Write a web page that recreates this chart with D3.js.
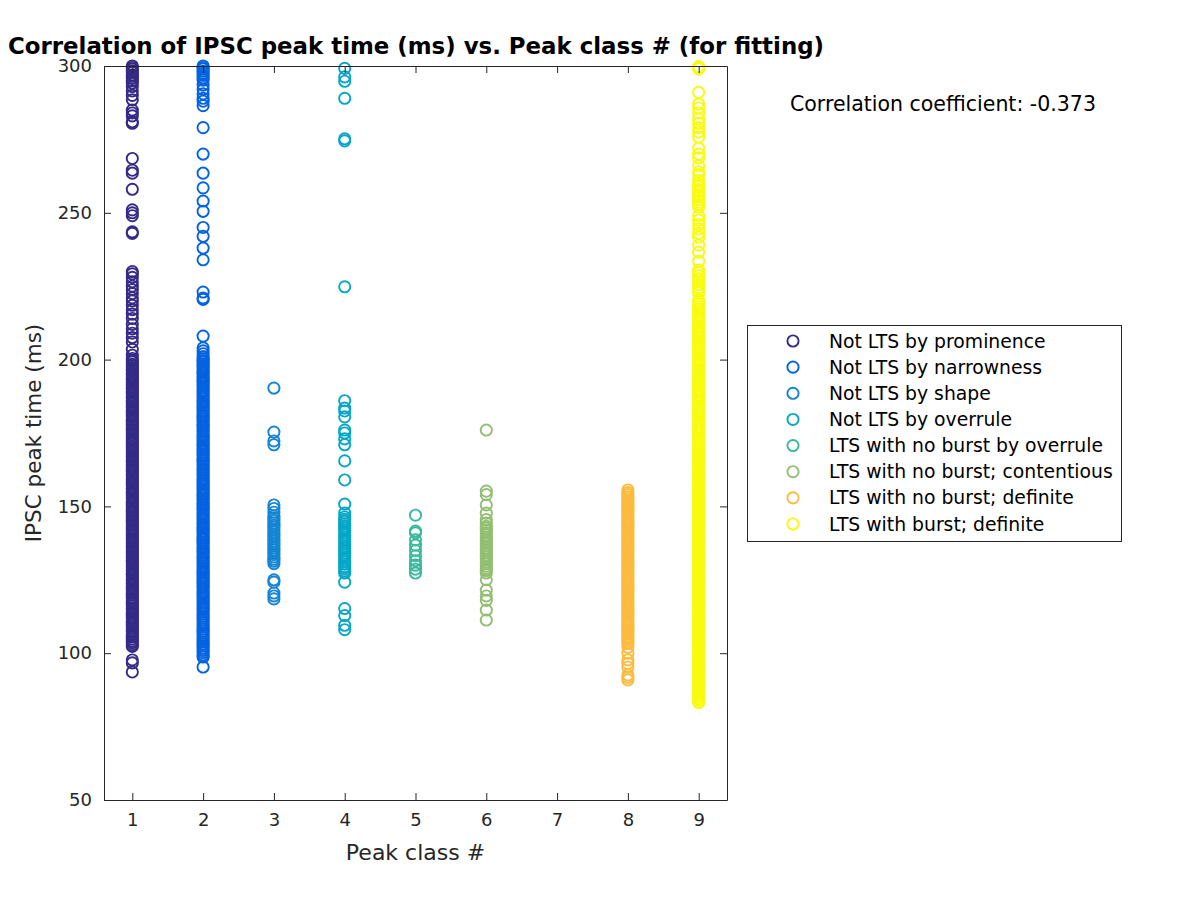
<!DOCTYPE html>
<html>
<head>
<meta charset="utf-8">
<script src="https://cdn.jsdelivr.net/npm/d3@7"></script>
<style>
  html, body { margin: 0; padding: 0; background: #fff; }
  svg text { font-family: "DejaVu Sans", sans-serif; }
</style>
</head>
<body>
<svg id="chart" width="1200" height="900"></svg>
<script>
// ---------------- DATA ----------------
const classNumbers = [1, 2, 3, 4, 5, 6, 8, 9];
const classNames = [
  "Not LTS by prominence",
  "Not LTS by narrowness",
  "Not LTS by shape",
  "Not LTS by overrule",
  "LTS with no burst by overrule",
  "LTS with no burst; contentious",
  "LTS with no burst; definite",
  "LTS with burst; definite"
];
const classColors = ["#352a87", "#0363e1", "#1485d4", "#06a7c6", "#38b99e", "#92bf73", "#fcbb3e", "#f9fb0e"];
const xTickValues = [1, 2, 3, 4, 5, 6, 7, 8, 9];
const yTickValues = [50, 100, 150, 200, 250, 300];
const correlationText = "Correlation coefficient: -0.373";

// IPSC peak times (ms) per peak class
const peakTimes1 = [
  93.6, 96.7, 97.7,
  102.3,102.9,103.6,104.1,104.8,105.5,106.0,106.7,107.4,107.9,108.6,109.2,109.9,110.5,111.0,111.8,112.3,113.0,113.6,114.1,114.9,115.4,
  116.1,116.7,117.2,117.9,118.6,119.1,119.8,120.4,121.0,121.7,122.2,122.9,123.5,124.0,124.8,125.3,126.0,126.6,127.1,127.9,128.4,129.1,
  129.7,130.2,131.0,131.5,132.2,132.8,133.3,134.1,134.6,135.3,135.9,136.4,137.2,137.7,138.4,139.0,139.5,140.3,140.8,141.5,142.1,142.6,
  143.4,143.9,144.6,145.2,145.7,146.5,147.0,147.7,148.3,148.8,149.6,150.1,150.8,151.4,151.9,152.7,153.2,153.9,154.5,155.0,155.8,156.3,
  157.0,157.6,158.1,158.9,159.4,160.1,160.7,161.2,162.0,162.5,163.2,163.8,164.3,165.1,165.6,166.3,166.9,167.4,168.2,168.7,169.4,170.0,
  170.5,171.3,171.8,172.5,173.1,173.6,174.4,174.9,175.6,176.2,176.7,177.5,178.0,178.7,179.3,179.8,180.6,181.1,181.8,182.4,182.9,183.7,
  184.2,184.9,185.5,186.0,186.8,187.3,188.0,188.6,189.1,189.9,190.4,191.1,191.7,192.2,193.0,193.5,194.2,194.8,195.3,196.1,196.6,197.3,
  197.9,198.4,199.2,199.7,200.4,
  201.5,203.5,206.0,207.5,209.0,210.5,212.0,214.0,215.5,217.0,218.5,220.0,221.0,222.5,223.8,225.0,226.5,228.0,229.2,230.0,
  243.0,243.5,249.0,250.0,251.0,258.0,263.5,264.5,268.5,
  280.5,281.0,283.0,284.0,285.0,288.5,290.0,291.5,293.0,294.2,295.0,295.8,296.5,297.0,297.8,298.4,299.0,299.5,300.0
];
const peakTimes2 = [
  95.3, 98.7, 99.4, 100.2, 100.9, 101.6, 102.4, 103.1, 103.8, 104.6, 105.3, 106.0, 106.8, 107.5, 108.2, 109.0, 109.7, 110.4,
  111.2, 111.9, 112.6, 113.4, 114.1, 114.8, 115.4,
  115.9,116.5,117.2,117.8,118.5,119.0,119.7,120.4,120.9,121.6,122.3,122.8,123.5,124.1,124.7,125.4,125.9,126.6,127.3,127.8,128.5,129.1,
  129.7,130.4,130.9,131.6,132.3,132.8,133.5,134.1,134.7,135.4,135.9,136.6,137.3,137.8,138.5,139.1,139.7,140.4,140.9,141.6,142.3,142.8,
  143.5,144.1,144.7,145.4,145.9,146.6,147.3,147.8,148.5,149.1,149.7,150.4,150.9,151.6,152.3,152.8,153.5,154.1,154.7,155.4,155.9,156.6,
  157.3,157.8,158.5,159.1,159.7,160.4,160.9,161.6,162.3,162.8,163.5,164.1,164.7,165.4,165.9,166.6,167.3,167.8,168.5,169.1,169.7,170.4,
  170.9,171.6,172.3,172.8,173.5,174.1,174.7,175.4,175.9,176.6,177.3,177.8,178.5,179.1,179.7,180.4,180.9,181.6,182.3,182.8,183.5,184.1,
  184.7,185.4,185.9,186.6,187.3,187.8,188.5,189.1,189.7,190.4,190.9,191.6,192.3,192.8,193.5,194.1,194.7,195.4,195.9,196.6,197.3,197.8,
  198.5,199.1,199.7,200.3,201.0,202.0,203.0,204.0,208.0,
  220.5,221.0,223.0,234.0,238.0,242.0,245.0,250.5,254.0,258.5,263.5,270.0,279.0,
  286.5,288.0,289.0,290.5,292.0,293.5,295.2,296.0,296.8,297.5,298.2,299.0,299.5,300.0
];
const peakTimes3 = [
  118.5, 119.5, 120.5, 124.2, 125.0, 130.5, 131.3,
  132.0,132.8,133.6,134.3,135.1,135.9,136.7,137.4,138.2,139.0,139.8,140.5,141.3,142.1,142.9,143.6,144.4,145.2,146.0,146.8,148.0,149.3,150.5,
  171.0, 172.3, 175.3, 190.3
];
const peakTimes4 = [
  108.0, 109.5, 112.8, 115.2, 124.2,
  127.3,128.0,128.8,129.5,130.3,131.1,131.8,132.6,133.4,134.1,134.9,135.7,136.4,137.2,138.0,138.7,139.5,140.3,141.0,141.8,142.6,143.3,144.1,
  144.9,145.6,146.4,147.7,
  150.8, 159.0, 165.5, 171.0, 173.0, 175.0, 176.0, 180.5, 182.5, 183.5, 186.0,
  224.8, 274.5, 275.2, 289.0, 294.8, 296.3, 299.2
];
const peakTimes5 = [127.3, 128.6, 130.0, 131.5, 133.2, 135.0, 136.8, 138.6, 141.0, 141.6, 147.0];
const peakTimes6 = [
  111.3, 114.7, 118.0, 119.5, 121.5, 125.0,
  127.3,128.1,128.8,129.6,130.4,131.1,131.9,132.7,133.4,134.2,135.0,135.7,136.5,137.3,138.0,138.8,139.6,140.3,141.1,141.9,142.6,
  143.2, 144.3, 145.5, 147.7, 150.5, 154.0, 155.2, 176.0
];
const peakTimes8 = [
  90.9, 91.8, 92.6, 95.3, 96.5, 97.7, 100.0, 102.0,
  103.3,103.9,104.6,105.2,105.9,106.5,107.2,107.8,108.5,109.1,109.8,110.4,111.1,111.7,112.4,113.0,113.7,114.3,115.0,115.6,116.3,116.9,
  117.6,118.2,118.9,119.5,120.2,120.8,121.5,122.1,122.8,123.4,124.1,124.7,125.4,126.0,126.7,127.3,128.0,128.6,129.3,129.9,130.6,131.2,
  131.9,132.5,133.2,133.8,134.5,135.1,135.8,136.4,137.1,137.7,138.4,139.0,139.7,140.3,141.0,141.6,142.3,142.9,143.6,144.2,144.9,145.5,
  146.2,146.8,147.5,148.1,148.8,149.4,150.1,150.7,151.4,152.0,152.7,153.3,154.0,154.7,155.6
];
const peakTimes9 = [
  83.2,83.9,84.5,85.2,85.8,86.5,87.1,87.8,88.4,89.1,89.7,90.4,91.0,91.7,92.3,93.0,93.6,94.3,94.9,95.6,96.2,96.9,97.5,98.2,98.8,99.5,
  100.1,100.8,101.4,102.1,102.7,103.4,104.0,104.7,105.3,106.0,106.6,107.3,107.9,108.6,109.2,109.9,110.5,111.2,111.8,112.5,113.1,113.8,
  114.4,115.1,115.7,116.4,117.0,117.7,118.3,119.0,119.6,120.3,120.9,121.6,122.2,122.9,123.5,124.2,124.8,125.5,126.1,126.8,127.4,128.1,
  128.7,129.4,130.0,130.7,131.3,132.0,132.6,133.3,133.9,134.6,135.2,135.9,136.5,137.2,137.8,138.5,139.1,139.8,140.4,141.1,141.7,142.4,
  143.0,143.7,144.3,145.0,145.6,146.3,146.9,147.6,148.2,148.9,149.5,150.2,150.8,151.5,152.1,152.8,153.4,154.1,154.7,155.4,156.0,156.7,
  157.3,158.0,158.6,159.3,159.9,160.6,161.2,161.9,162.5,163.2,163.8,164.5,165.1,165.8,166.4,167.1,167.7,168.4,169.0,169.7,170.3,171.0,
  171.6,172.4,173.1,173.9,174.6,175.5,176.2,177.0,177.8,178.5,179.3,180.2,180.9,181.7,182.4,183.3,184.0,184.8,185.6,186.5,187.2,188.0,
  188.8,189.6,190.3,191.2,192.0,192.7,193.5,194.4,195.1,195.9,196.7,197.6,198.3,199.1,199.9,
  200.6,201.3,202.0,202.7,203.4,204.2,204.9,205.6,206.3,207.1,207.8,208.5,209.3,210.0,210.7,211.4,212.2,212.9,213.6,214.4,215.1,215.8,
  216.6,217.3,218.0,218.8,219.5,220.3,
  222.7,223.5,224.5,225.5,226.6,227.6,228.6,229.6,230.5,
  233.5, 236.6, 239.0, 241.7, 243.0, 244.5, 246.0, 247.5, 249.0,
  252.0,252.8,253.6,254.5,255.3,256.2,257.0,257.9,258.8,259.6,
  261.0, 263.0, 264.0, 266.0, 268.7, 270.0, 272.0, 275.8, 277.5, 279.0, 280.5, 282.0, 284.0, 285.7, 287.0, 291.0, 299.0, 299.4, 299.8
];
const peakTimesByClass = [peakTimes1, peakTimes2, peakTimes3, peakTimes4, peakTimes5, peakTimes6, peakTimes8, peakTimes9];

// ---------------- LAYOUT ----------------
const svg = d3.select("#chart");
const plot = { left: 104, right: 727, top: 66, bottom: 800 };
const axisColor = "#262626";

const x = d3.scaleLinear().domain([0.6, 9.4]).range([plot.left, plot.right]);
const y = d3.scaleLinear().domain([50, 300]).range([plot.bottom, plot.top]);

// Points
const points = [];
peakTimesByClass.forEach((arr, i) => {
  arr.forEach(v => points.push({ cls: classNumbers[i], v: v, color: classColors[i] }));
});

svg.append("g").selectAll("circle")
  .data(points)
  .enter().append("circle")
  .attr("cx", d => x(d.cls))
  .attr("cy", d => y(d.v))
  .attr("r", 5.6)
  .attr("fill", "none")
  .attr("stroke", d => d.color)
  .attr("stroke-width", 1.9);

// Axes (MATLAB-style box with inward ticks)
const tickLen = 7;
const xAxisB = d3.axisBottom(x).tickValues(xTickValues).tickSizeInner(-tickLen).tickSizeOuter(0).tickPadding(13).tickFormat(d3.format("d"));
const xAxisT = d3.axisTop(x).tickValues(xTickValues).tickSizeInner(-tickLen).tickSizeOuter(0).tickFormat("");
const yAxisL = d3.axisLeft(y).tickValues(yTickValues).tickSizeInner(-tickLen).tickSizeOuter(0).tickPadding(12).tickFormat(d3.format("d"));
const yAxisR = d3.axisRight(y).tickValues(yTickValues).tickSizeInner(-tickLen).tickSizeOuter(0).tickFormat("");

function styleAxis(g) {
  g.select(".domain").attr("stroke", axisColor).attr("stroke-width", 1);
  g.selectAll(".tick line").attr("stroke", axisColor).attr("stroke-width", 1);
  g.selectAll(".tick text").attr("fill", axisColor).style("font-size", "18px").style("font-family", "DejaVu Sans, sans-serif");
}
svg.append("g").attr("transform", `translate(0,${plot.bottom})`).call(xAxisB).call(styleAxis);
svg.append("g").attr("transform", `translate(0,${plot.top})`).call(xAxisT).call(styleAxis);
svg.append("g").attr("transform", `translate(${plot.left},0)`).call(yAxisL).call(styleAxis);
svg.append("g").attr("transform", `translate(${plot.right},0)`).call(yAxisR).call(styleAxis);

// Axis labels
svg.append("text")
  .attr("x", (plot.left + plot.right) / 2).attr("y", 860)
  .attr("text-anchor", "middle").attr("fill", axisColor)
  .style("font-size", "22px")
  .text("Peak class #");
svg.append("text")
  .attr("transform", `translate(41,${(plot.top + plot.bottom) / 2}) rotate(-90)`)
  .attr("text-anchor", "middle").attr("fill", axisColor)
  .style("font-size", "21.5px")
  .text("IPSC peak time (ms)");

// Title
svg.append("text")
  .attr("x", 8).attr("y", 54)
  .attr("fill", "#000")
  .style("font-size", "22.5px").style("font-weight", "bold")
  .attr("textLength", 816).attr("lengthAdjust", "spacingAndGlyphs")
  .text("Correlation of IPSC peak time (ms) vs. Peak class # (for fitting)");

// Correlation text
svg.append("text")
  .attr("x", 790).attr("y", 111)
  .attr("fill", "#000")
  .style("font-size", "20.5px")
  .text(correlationText);

// Legend
const legend = svg.append("g");
legend.append("rect")
  .attr("x", 747.5).attr("y", 325.5).attr("width", 374).attr("height", 216)
  .attr("fill", "#fff").attr("stroke", axisColor).attr("stroke-width", 1);
const rowY = d3.scalePoint().domain(d3.range(classNames.length)).range([341, 524]);
const rows = legend.selectAll("g.row").data(classNames).enter().append("g").attr("class", "row");
rows.append("circle")
  .attr("cx", 793).attr("cy", (d, i) => rowY(i)).attr("r", 5.6)
  .attr("fill", "none").attr("stroke", (d, i) => classColors[i]).attr("stroke-width", 1.9);
rows.append("text")
  .attr("x", 829).attr("y", (d, i) => rowY(i)).attr("dy", "0.35em")
  .attr("fill", "#000").style("font-size", "18.8px")
  .text(d => d);
</script>
</body>
</html>
